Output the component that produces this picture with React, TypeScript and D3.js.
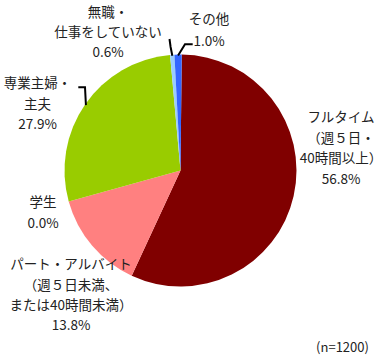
import React from "react";
import * as d3 from "d3";

const categories = [
  "フルタイム（週５日・40時間以上）",
  "パート・アルバイト（週５日未満、または40時間未満）",
  "学生",
  "専業主婦・主夫",
  "無職・仕事をしていない",
  "その他",
];
const values = [56.8, 13.8, 0.0, 27.9, 0.6, 1.0];
const labelLines = [
  ["フルタイム", "（週５日・", "40時間以上）"],
  ["パート・アルバイト", "（週５日未満、", "または40時間未満）"],
  ["学生"],
  ["専業主婦・", "主夫"],
  ["無職・", "仕事をしていない"],
  ["その他"],
];
const colors = ["#800000", "#FF8080", "#CCFFCC", "#99CC00", "#99CCFF", "#3366FF"];
const note = "(n=1200)";

// layout (positions only)
const W = 387, H = 356;
const cx = 180.5, cy = 170.5, R = 116;
const startOffset = (0.6 * Math.PI) / 180;
const labelPos = [
  { x: 341, y: 116, lh: 20.7 },
  { x: 71, y: 263.3, lh: 20.2 },
  { x: 43, y: 200.7, lh: 21 },
  { x: 37.5, y: 81.7, lh: 20.8 },
  { x: 108, y: 11, lh: 20 },
  { x: 209, y: 17.7, lh: 22.3 },
];
// leader line start points (label side), for slices that have a leader
const leaders: { [k: number]: [number, number][] } = {
  3: [[78.3, 87.3], [85, 87.3]],
  4: [[169.5, 39], [170.6, 47]],
  5: [[192.7, 44.3], [185, 44.3]],
};

export default function App() {
  const pie = d3
    .pie<number>()
    .sort(null)
    .value((d) => d)
    .startAngle(startOffset)
    .endAngle(startOffset + Math.PI * 2);
  const arcs = pie(values);
  const arc = d3.arc<d3.PieArcDatum<number>>().innerRadius(0).outerRadius(R);
  const font = "'Noto Sans CJK JP', 'Noto Sans', sans-serif";

  return (
    <div style={{ position: "fixed", left: 0, top: 0 }}>
      <svg width={W} height={H} style={{ display: "block", background: "#fff" }}>
        <g transform={`translate(${cx},${cy})`}>
          {arcs.map((a, i) =>
            a.endAngle - a.startAngle > 0 ? (
              <path key={i} d={arc(a) || ""} fill={colors[i]} />
            ) : null
          )}
        </g>
        {Object.keys(leaders).map((k) => {
          const i = Number(k);
          const a = arcs[i];
          const mid = (a.startAngle + a.endAngle) / 2;
          const ex = cx + (R - 1) * Math.sin(mid);
          const ey = cy - (R - 1) * Math.cos(mid);
          const pts = [...leaders[i], [ex, ey] as [number, number]];
          return (
            <path
              key={k}
              d={d3.line()(pts) || ""}
              fill="none"
              stroke="#000"
              strokeWidth={2}
            />
          );
        })}
        {labelLines.map((lines, i) => {
          const p = labelPos[i];
          const all = [...lines, values[i].toFixed(1) + "%"];
          return (
            <text
              key={i}
              textAnchor="middle"
              fontFamily={font}
              fontSize={13.5}
              fill="#222"
            >
              {all.map((t, j) => (
                <tspan key={j} x={p.x} y={p.y + j * p.lh} dominantBaseline="central">
                  {t}
                </tspan>
              ))}
            </text>
          );
        })}
        <text
          x={342.5}
          y={346}
          textAnchor="middle"
          dominantBaseline="central"
          fontFamily={font}
          fontSize={13}
          fill="#222"
        >
          {note}
        </text>
      </svg>
    </div>
  );
}
